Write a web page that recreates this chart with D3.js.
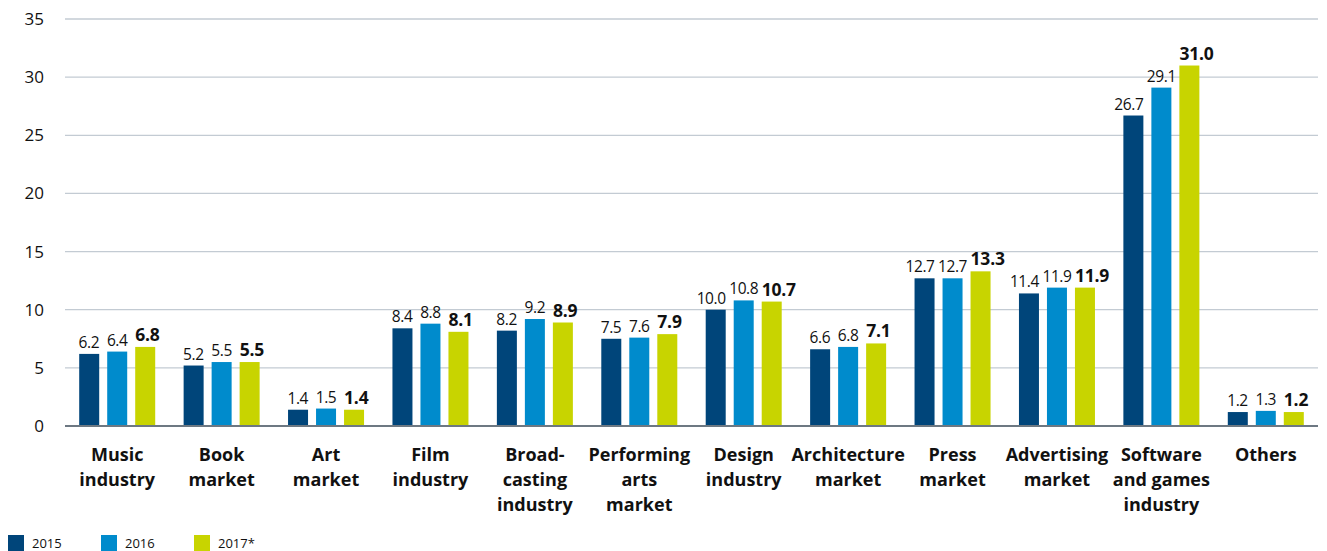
<!DOCTYPE html>
<html><head><meta charset="utf-8">
<script src="https://cdn.jsdelivr.net/npm/d3@7"></script>
<style>
body{margin:0;background:#fff;}
svg{display:block;font-family:"Open Sans","Noto Sans",sans-serif;}
</style></head>
<body>
<svg id="c" width="1327" height="551"></svg>
<script>
const categories = [
  ["Music","industry"],["Book","market"],["Art","market"],["Film","industry"],
  ["Broad-","casting","industry"],["Performing","arts","market"],["Design","industry"],
  ["Architecture","market"],["Press","market"],["Advertising","market"],
  ["Software","and games","industry"],["Others"]
];
const years = ["2015","2016","2017*"];
const values2015 = [6.2,5.2,1.4,8.4,8.2,7.5,10.0,6.6,12.7,11.4,26.7,1.2];
const values2016 = [6.4,5.5,1.5,8.8,9.2,7.6,10.8,6.8,12.7,11.9,29.1,1.3];
const values2017 = [6.8,5.5,1.4,8.1,8.9,7.9,10.7,7.1,13.3,11.9,31.0,1.2];
const yTicks = [0,5,10,15,20,25,30,35];
const colors = ["#00457a","#008bcc","#c8d400"];

(function(){
const series = [values2015, values2016, values2017];
const svg = d3.select("#c");
const mLeft = 65, mRight = 1318, mTop = 19, mBottom = 426;

const x0 = d3.scaleBand().domain(d3.range(categories.length)).range([mLeft, mRight]).padding(0);
const x1 = d3.scaleBand().domain(years).range([-38, 38]).paddingInner(8/28).paddingOuter(0);
const y = d3.scaleLinear().domain([0,35]).range([mBottom, mTop]);

// grid
svg.append("g").selectAll("line").data(yTicks.filter(d=>d>0)).join("line")
  .attr("x1", mLeft).attr("x2", mRight)
  .attr("y1", d=>y(d)).attr("y2", d=>y(d))
  .attr("stroke", "#c3cbd3").attr("stroke-width", 1.3);

// y axis labels
const yAxis = d3.axisLeft(y).tickValues(yTicks).tickSize(0).tickPadding(0);
const ya = svg.append("g").attr("transform", "translate(44,0)").call(yAxis);
ya.select(".domain").remove();
ya.selectAll("text").attr("font-size", 17).attr("fill", "#111")
  .attr("font-family", "'Open Sans','Noto Sans',sans-serif");

// bars
categories.forEach((c, i) => {
  const cx = x0(i) + x0.bandwidth()/2;
  years.forEach((yr, j) => {
    const v = series[j][i];
    const bx = cx + x1(yr), bw = x1.bandwidth();
    svg.append("rect")
      .attr("x", bx).attr("width", bw)
      .attr("y", y(v)).attr("height", y(0) - y(v))
      .attr("fill", colors[j]);
    const lbl = svg.append("text")
      .attr("x", bx + bw/2)
      .attr("y", y(v) - 6)
      .attr("text-anchor", "middle")
      .attr("font-size", j === 2 ? 17.5 : 15.5)
      .attr("font-weight", j === 2 ? "bold" : "normal")
      .attr("letter-spacing", j === 2 ? -0.2 : -0.4)
      .attr("fill", "#111")
      .text(v.toFixed(1));
    const w = lbl.node().getComputedTextLength();
    const extra = Math.max(0, (w - bw) / 2);
    if (j === 0) lbl.attr("x", bx + bw/2 - extra);
    if (j === 2) lbl.attr("x", bx + bw/2 + extra);
  });
  const t = svg.append("text").attr("text-anchor","middle")
    .attr("font-size", 18).attr("font-weight","bold").attr("fill","#111");
  c.forEach((line, k) => {
    t.append("tspan").attr("x", cx).attr("y", 461 + k*25).text(line);
  });
});

// baseline
svg.append("line").attr("x1", mLeft).attr("x2", mRight)
  .attr("y1", y(0)).attr("y2", y(0))
  .attr("stroke", "#6d7882").attr("stroke-width", 2);

// legend
const legX = [8, 101, 194];
years.forEach((yr, j) => {
  svg.append("rect").attr("x", legX[j]).attr("y", 535).attr("width", 16).attr("height", 16).attr("fill", colors[j]);
  svg.append("text").attr("x", legX[j] + 24).attr("y", 548).attr("font-size", 13)
    .attr("fill", "#111").text(yr);
});
})();
</script>
</body></html>
